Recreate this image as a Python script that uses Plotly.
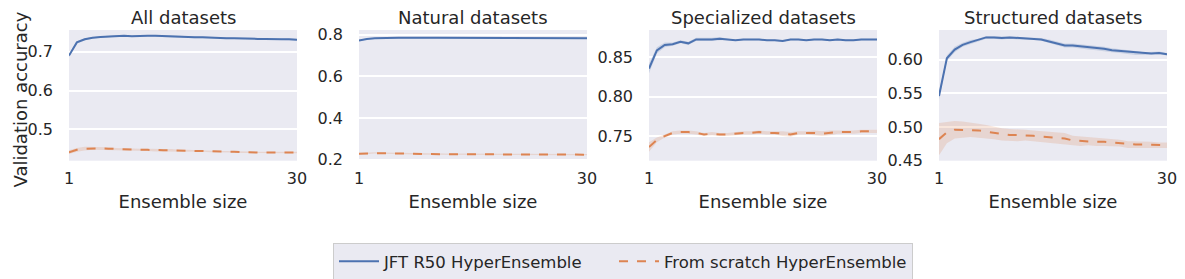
import plotly.graph_objects as go

ensemble_size = list(range(1, 31))

panel_titles = ["All datasets", "Natural datasets", "Specialized datasets", "Structured datasets"]

# JFT R50 HyperEnsemble (mean)
jft_all = [0.690, 0.724, 0.732, 0.736, 0.738, 0.739, 0.741, 0.741, 0.740, 0.741, 0.741, 0.741, 0.740, 0.740, 0.739,
           0.738, 0.737, 0.737, 0.736, 0.736, 0.735, 0.735, 0.734, 0.734, 0.733, 0.733, 0.732, 0.732, 0.732, 0.731]
jft_nat = [0.772, 0.779, 0.782, 0.784, 0.784, 0.785, 0.785, 0.784, 0.785, 0.785, 0.785, 0.785, 0.785, 0.785, 0.785,
           0.785, 0.785, 0.785, 0.785, 0.785, 0.785, 0.784, 0.784, 0.784, 0.784, 0.783, 0.783, 0.783, 0.783, 0.782]
jft_spe = [0.836, 0.859, 0.866, 0.867, 0.870, 0.868, 0.873, 0.873, 0.873, 0.874, 0.873, 0.872, 0.873, 0.873, 0.873,
           0.872, 0.872, 0.871, 0.873, 0.873, 0.872, 0.873, 0.873, 0.872, 0.873, 0.872, 0.872, 0.873, 0.873, 0.873]
jft_str = [0.546, 0.602, 0.615, 0.622, 0.626, 0.629, 0.633, 0.633, 0.632, 0.633, 0.632, 0.631, 0.631, 0.630, 0.627,
           0.624, 0.621, 0.621, 0.620, 0.618, 0.617, 0.616, 0.614, 0.613, 0.612, 0.610, 0.609, 0.609, 0.610, 0.608]

# From scratch HyperEnsemble (mean)
fs_all = [0.441, 0.447, 0.450, 0.451, 0.451, 0.450, 0.449, 0.448, 0.447, 0.447, 0.447, 0.446, 0.446, 0.446, 0.445,
          0.445, 0.444, 0.444, 0.443, 0.442, 0.442, 0.442, 0.441, 0.441, 0.440, 0.440, 0.440, 0.440, 0.440, 0.440]
fs_nat = [0.228, 0.230, 0.232, 0.231, 0.230, 0.229, 0.228, 0.228, 0.227, 0.227, 0.227, 0.226, 0.226, 0.226, 0.226,
          0.225, 0.225, 0.225, 0.225, 0.226, 0.226, 0.225, 0.225, 0.225, 0.225, 0.225, 0.224, 0.224, 0.224, 0.224]
fs_spe = [0.736, 0.745, 0.750, 0.754, 0.755, 0.755, 0.754, 0.752, 0.753, 0.752, 0.752, 0.753, 0.754, 0.754, 0.755,
          0.754, 0.754, 0.753, 0.752, 0.754, 0.754, 0.754, 0.753, 0.754, 0.755, 0.755, 0.755, 0.756, 0.756, 0.756]
fs_str = [0.482, 0.492, 0.496, 0.496, 0.496, 0.495, 0.493, 0.491, 0.489, 0.488, 0.488, 0.488, 0.487, 0.486, 0.485,
          0.484, 0.483, 0.480, 0.479, 0.479, 0.478, 0.478, 0.477, 0.476, 0.474, 0.474, 0.474, 0.474, 0.473, 0.473]

# Band half-widths (spread)
jft_all_sd = [0.004, 0.003, 0.003, 0.002, 0.002, 0.002, 0.002, 0.002, 0.002, 0.002, 0.002, 0.002, 0.002, 0.002, 0.002,
              0.002, 0.002, 0.002, 0.002, 0.002, 0.002, 0.002, 0.002, 0.002, 0.002, 0.002, 0.002, 0.002, 0.002, 0.002]
jft_nat_sd = [0.004, 0.003, 0.003, 0.003, 0.003, 0.003, 0.003, 0.003, 0.003, 0.003, 0.003, 0.003, 0.003, 0.003, 0.003,
              0.003, 0.003, 0.003, 0.003, 0.003, 0.003, 0.003, 0.003, 0.003, 0.003, 0.003, 0.003, 0.003, 0.003, 0.003]
jft_spe_sd = [0.006, 0.004, 0.003, 0.002, 0.002, 0.002, 0.002, 0.002, 0.002, 0.002, 0.001, 0.001, 0.001, 0.001, 0.001,
              0.001, 0.001, 0.001, 0.001, 0.001, 0.001, 0.001, 0.001, 0.001, 0.001, 0.001, 0.001, 0.001, 0.001, 0.001]
jft_str_sd = [0.006, 0.004, 0.004, 0.003, 0.003, 0.002, 0.002, 0.002, 0.002, 0.002, 0.002, 0.002, 0.002, 0.002, 0.003,
              0.003, 0.003, 0.003, 0.003, 0.003, 0.003, 0.003, 0.003, 0.003, 0.003, 0.003, 0.002, 0.002, 0.002, 0.002]
fs_all_sd = [0.005, 0.005, 0.005, 0.004, 0.004, 0.004, 0.003, 0.003, 0.003, 0.003, 0.003, 0.003, 0.003, 0.003, 0.002,
             0.002, 0.002, 0.002, 0.002, 0.002, 0.002, 0.002, 0.002, 0.002, 0.002, 0.002, 0.002, 0.002, 0.002, 0.002]
fs_nat_sd = [0.004, 0.004, 0.003, 0.003, 0.003, 0.003, 0.003, 0.003, 0.003, 0.003, 0.003, 0.003, 0.003, 0.003, 0.003,
             0.003, 0.003, 0.003, 0.003, 0.003, 0.003, 0.003, 0.003, 0.003, 0.003, 0.003, 0.003, 0.003, 0.003, 0.003]
fs_spe_sd = [0.006, 0.003, 0.002, 0.002, 0.002, 0.002, 0.002, 0.002, 0.002, 0.002, 0.002, 0.002, 0.002, 0.002, 0.002,
             0.002, 0.002, 0.003, 0.003, 0.002, 0.002, 0.003, 0.003, 0.003, 0.002, 0.002, 0.002, 0.002, 0.002, 0.002]
fs_str_sd = [0.024, 0.016, 0.013, 0.012, 0.011, 0.010, 0.010, 0.009, 0.009, 0.009, 0.009, 0.008, 0.008, 0.008, 0.008,
             0.008, 0.008, 0.007, 0.007, 0.006, 0.006, 0.006, 0.005, 0.005, 0.005, 0.005, 0.004, 0.004, 0.004, 0.004]

y_ranges = [[0.419, 0.756], [0.195, 0.822], [0.7186, 0.885], [0.45, 0.644]]
y_ticks = [[0.5, 0.6, 0.7], [0.2, 0.4, 0.6, 0.8], [0.75, 0.80, 0.85], [0.45, 0.50, 0.55, 0.60]]
y_ticktext = [["0.5", "0.6", "0.7"], ["0.2", "0.4", "0.6", "0.8"], ["0.75", "0.80", "0.85"],
              ["0.45", "0.50", "0.55", "0.60"]]

series_labels = ["JFT R50 HyperEnsemble", "From scratch HyperEnsemble"]
y_label = "Validation accuracy"
x_label = "Ensemble size"
jft = [jft_all, jft_nat, jft_spe, jft_str]
fs = [fs_all, fs_nat, fs_spe, fs_str]
jft_sd = [jft_all_sd, jft_nat_sd, jft_spe_sd, jft_str_sd]
fs_sd = [fs_all_sd, fs_nat_sd, fs_spe_sd, fs_str_sd]

BLUE = "#4C72B0"
ORANGE = "#DD8452"
BLUE_FILL = "rgba(76,114,176,0.2)"
ORANGE_FILL = "rgba(221,132,82,0.2)"
FONT = "DejaVu Sans"
TXT = "#262626"

# page body has an 8px margin: lay out in window pixels, then shift
OFF = 8
W, H = 1185 - OFF, 279 - OFF
lefts = [69, 359, 649, 939]
pw = 228
top_px, bot_px = 30, 160.7


def px_x(v):
    return (v - OFF) / W


def px_y(v):
    return 1 - (v - OFF) / H


fig = go.Figure()


def band(x, m, s, color, ax):
    up = [a + b for a, b in zip(m, s)]
    lo = [a - b for a, b in zip(m, s)]
    return go.Scatter(x=x + x[::-1], y=up + lo[::-1], fill="toself", fillcolor=color,
                      line=dict(width=0), mode="lines", hoverinfo="skip", showlegend=False,
                      xaxis="x" + ("" if ax == 1 else str(ax)), yaxis="y" + ("" if ax == 1 else str(ax)))


layout = dict(width=W, height=H, margin=dict(l=0, r=0, t=0, b=0, autoexpand=False), paper_bgcolor="white",
              plot_bgcolor="#EAEAF2", font=dict(family=FONT, color=TXT, size=16))
annotations = []

for i in range(4):
    ax = i + 1
    suffix = "" if ax == 1 else str(ax)
    fig.add_trace(band(ensemble_size, fs[i], fs_sd[i], ORANGE_FILL, ax))
    fig.add_trace(band(ensemble_size, jft[i], jft_sd[i], BLUE_FILL, ax))
    fig.add_trace(go.Scatter(x=ensemble_size, y=jft[i], mode="lines", line=dict(color=BLUE, width=2),
                             name=series_labels[0], showlegend=(i == 0), legendrank=1, legendwidth=225,
                             xaxis="x" + suffix, yaxis="y" + suffix))
    fig.add_trace(go.Scatter(x=ensemble_size, y=fs[i], mode="lines",
                             line=dict(color=ORANGE, width=2, dash="dash"),
                             name=series_labels[1], showlegend=(i == 0), legendrank=2,
                             xaxis="x" + suffix, yaxis="y" + suffix))
    x0 = px_x(lefts[i])
    x1 = px_x(lefts[i] + pw)
    layout["xaxis" + suffix] = dict(domain=[x0, x1], range=[1, 30], tickvals=[1, 30], ticktext=["1", "30"],
                                    showgrid=True, gridcolor="white", gridwidth=1, zeroline=False,
                                    anchor="y" + suffix, ticks="", tickfont=dict(size=16),
                                    ticklabelstandoff=6, automargin=False,
                                    title=dict(text=x_label, font=dict(size=18), standoff=8),
                                    showline=False, fixedrange=True)
    layout["yaxis" + suffix] = dict(domain=[px_y(bot_px), px_y(top_px)], range=y_ranges[i],
                                    tickvals=y_ticks[i], ticktext=y_ticktext[i], showgrid=True,
                                    gridcolor="white", gridwidth=1.5, zeroline=False, anchor="x" + suffix,
                                    ticks="", tickfont=dict(size=16), ticklabelstandoff=15, automargin=False,
                                    showline=False, fixedrange=True)
    annotations.append(dict(text=panel_titles[i], x=(x0 + x1) / 2, y=px_y(18), xref="paper", yref="paper",
                            showarrow=False, font=dict(size=18, color=TXT), xanchor="center", yanchor="middle"))

annotations.append(dict(text=y_label, x=px_x(8), y=px_y(100), xref="paper", yref="paper", textangle=-90,
                        showarrow=False, font=dict(size=18, color=TXT), xanchor="left", yanchor="middle",
                        borderpad=0))
layout["annotations"] = annotations
layout["legend"] = dict(orientation="h", x=px_x(623), y=px_y(261.5), xanchor="center", yanchor="middle",
                        bgcolor="#EAEAF2", bordercolor="#CCCCCC", borderwidth=1,
                        font=dict(size=16.5, color=TXT), itemwidth=40, tracegroupgap=0)
fig.update_layout(**layout)
fig.write_html("out.html")
